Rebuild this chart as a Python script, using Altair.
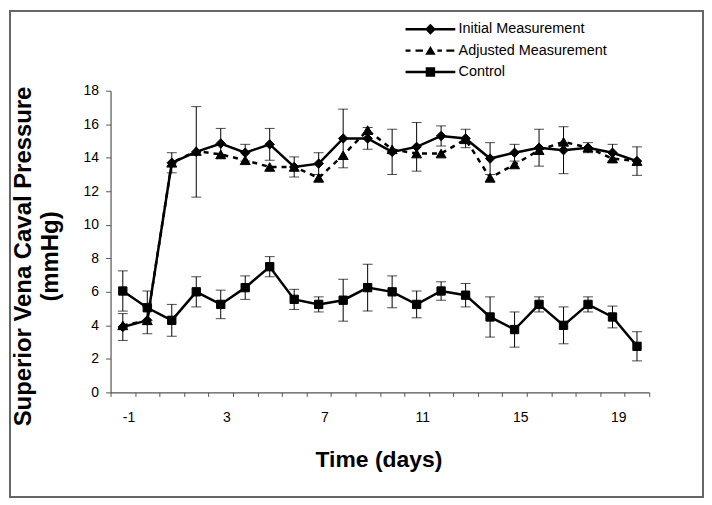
import altair as alt
import pandas as pd

# ---- data ----
days = list(range(-1, 21))
initial = [3.9, 4.3, 13.7, 14.35, 14.85, 14.3, 14.8, 13.45, 13.65, 15.15, 15.15,
           14.35, 14.65, 15.3, 15.15, 13.95, 14.3, 14.6, 14.45, 14.6, 14.3, 13.8]
initial_err = [0.8, 0.8, 0.6, 2.7, 0.9, 0.5, 0.95, 0.6, 0.65, 1.75, 0.65,
               1.35, 1.45, 0.6, 0.55, 0.95, 0.5, 1.1, 1.4, 0.3, 0.5, 0.85]
adjusted = [4.0, 4.3, 13.7, 14.4, 14.2, 13.85, 13.45, 13.45, 12.8, 14.15, 15.65,
            14.5, 14.25, 14.25, 15.1, 12.8, 13.6, 14.45, 14.95, 14.6, 13.95, 13.8]
control = [6.05, 5.05, 4.3, 6.0, 5.25, 6.25, 7.5, 5.55, 5.25, 5.5, 6.25,
           6.0, 5.25, 6.05, 5.8, 4.5, 3.75, 5.25, 4.0, 5.25, 4.5, 2.75]
control_err = [1.2, 1.0, 0.95, 0.9, 0.85, 0.7, 0.6, 0.6, 0.45, 1.25, 1.4,
               0.95, 0.8, 0.55, 0.7, 1.2, 1.05, 0.45, 1.1, 0.45, 0.65, 0.87]
tick_labels = [-1, 3, 7, 11, 15, 19]
y_ticks = [0, 2, 4, 6, 8, 10, 12, 14, 16, 18]
names = ["Initial Measurement", "Adjusted Measurement", "Control"]

FONT = "Liberation Sans, Arial, sans-serif"

rows = []
for i, d in enumerate(days):
    rows.append(dict(day=d, series=names[0], value=initial[i],
                     lo=initial[i] - initial_err[i], hi=initial[i] + initial_err[i]))
    rows.append(dict(day=d, series=names[1], value=adjusted[i], lo=None, hi=None))
    rows.append(dict(day=d, series=names[2], value=control[i],
                     lo=control[i] - control_err[i], hi=control[i] + control_err[i]))
df = pd.DataFrame(rows)

x_ticks = [d - 0.5 for d in days] + [days[-1] + 0.5]
label_at = ",".join(str(v - 0.5) for v in tick_labels)
label_expr = f"indexof([{label_at}], datum.value) >= 0 ? '' + (datum.value + 0.5) : ''"

x_scale = alt.Scale(domain=[days[0] - 0.5, days[-1] + 0.5], nice=False, zero=False)
x_axis = alt.Axis(values=x_ticks, labelExpr=label_expr, labelOffset=18,
                  labelOverlap=False, labelBound=False, labelFlush=False,
                  tickSize=4, labelPadding=14, labelFontSize=14, labelFont=FONT,
                  labelColor="black", grid=False,
                  title="Time (days)", titleFont=FONT, titleFontSize=23,
                  titleFontWeight="bold", titleColor="black",
                  titleX=269, titleY=74, titleBaseline="alphabetic",
                  titleAlign="center")
y_scale = alt.Scale(domain=[0, 18], nice=False)
y_axis = alt.Axis(values=y_ticks, tickSize=5, labelPadding=7, labelFontSize=14,
                  labelOverlap=False, labelFont=FONT, labelColor="black", grid=False,
                  title=["Superior Vena Caval Pressure", "(mmHg)"],
                  titleFont=FONT, titleFontSize=24, titleFontWeight="bold",
                  titleColor="black", titleAngle=270, titleX=-87, titleY=166,
                  titleBaseline="middle", titleAlign="center",
                  titleLineHeight=27)


def X(field="day"):
    return alt.X(f"{field}:Q", scale=x_scale, axis=x_axis)


def Y(field):
    return alt.Y(f"{field}:Q", scale=y_scale, axis=y_axis)


base = alt.Chart(df)

err = base.transform_filter("datum.lo != null")
err_rule = err.mark_rule(color="black", strokeWidth=1).encode(
    x=X(), y=Y("lo"), y2="hi:Q")
err_lo = err.mark_tick(color="black", orient="horizontal", size=10, thickness=1).encode(
    x=X(), y=Y("lo"))
err_hi = err.mark_tick(color="black", orient="horizontal", size=10, thickness=1).encode(
    x=X(), y=Y("hi"))


def series_layers(name, shape, size, dash=None):
    d = base.transform_filter(alt.datum.series == name)
    line_kwargs = dict(color="black", strokeWidth=2.5)
    if dash:
        line_kwargs["strokeDash"] = dash
    line = d.mark_line(**line_kwargs).encode(x=X(), y=Y("value"))
    pts = d.mark_point(shape=shape, size=size, filled=True, fill="black",
                       stroke="black", strokeWidth=1, opacity=1).encode(x=X(), y=Y("value"))
    return [line, pts]


# legend glyphs: line segments drawn as thin filled bars plus the marker
legend_paths = [
    "M-5,-0.25H5V0.25H-5Z M0,-1.1L1.1,0L0,1.1L-1.1,0Z",
    "M-5,-0.25H-4V0.25H-5Z M-3,-0.25H-1.5V0.25H-3Z M1.4,-0.25H2.3V0.25H1.4Z "
    "M3.2,-0.25H4.8V0.25H3.2Z M0,-0.95L1.05,0.85L-1.05,0.85Z",
    "M-5,-0.25H5V0.25H-5Z M-0.95,-0.95H0.95V0.95H-0.95Z",
]
legend_layer = base.transform_filter("datum.series == 'none'").mark_point(
    filled=True, color="black", opacity=1
).encode(
    x=X(), y=Y("value"),
    shape=alt.Shape("series:N", scale=alt.Scale(domain=names, range=legend_paths),
                    legend=alt.Legend(title=None, orient="none", legendX=296, legendY=-69,
                                      symbolSize=100, symbolOffset=18, labelOffset=21,
                                      symbolFillColor="black", symbolOpacity=1,
                                      symbolStrokeWidth=0,
                                      labelFont=FONT, labelFontSize=14.5, labelColor="black",
                                      rowPadding=6.5, padding=0)))

frame = alt.Chart(pd.DataFrame({"a": [0]})).mark_rect(
    fillOpacity=0, stroke="#666666", strokeWidth=2
).encode(x=alt.value(-101), x2=alt.value(595), y=alt.value(-80), y2=alt.value(408))

layers = [err_rule, err_lo, err_hi]
layers += series_layers(names[1], "triangle-up", 100, dash=[5, 5])
layers += series_layers(names[0], "diamond", 90)
layers += series_layers(names[2], "square", 70)
layers += [legend_layer, frame]

chart = alt.layer(*layers).properties(
    width=541, height=303,
    padding={"left": 103, "top": 82, "right": 55, "bottom": 105},
    autosize=alt.AutoSizeParams(type="none"),
    background="white",
).configure_view(stroke=None).configure_axis(
    domainColor="#555555", tickColor="#555555", domainWidth=1.2, tickWidth=1
)

chart.save("out.html", embed_options={"renderer": "svg", "actions": False})
